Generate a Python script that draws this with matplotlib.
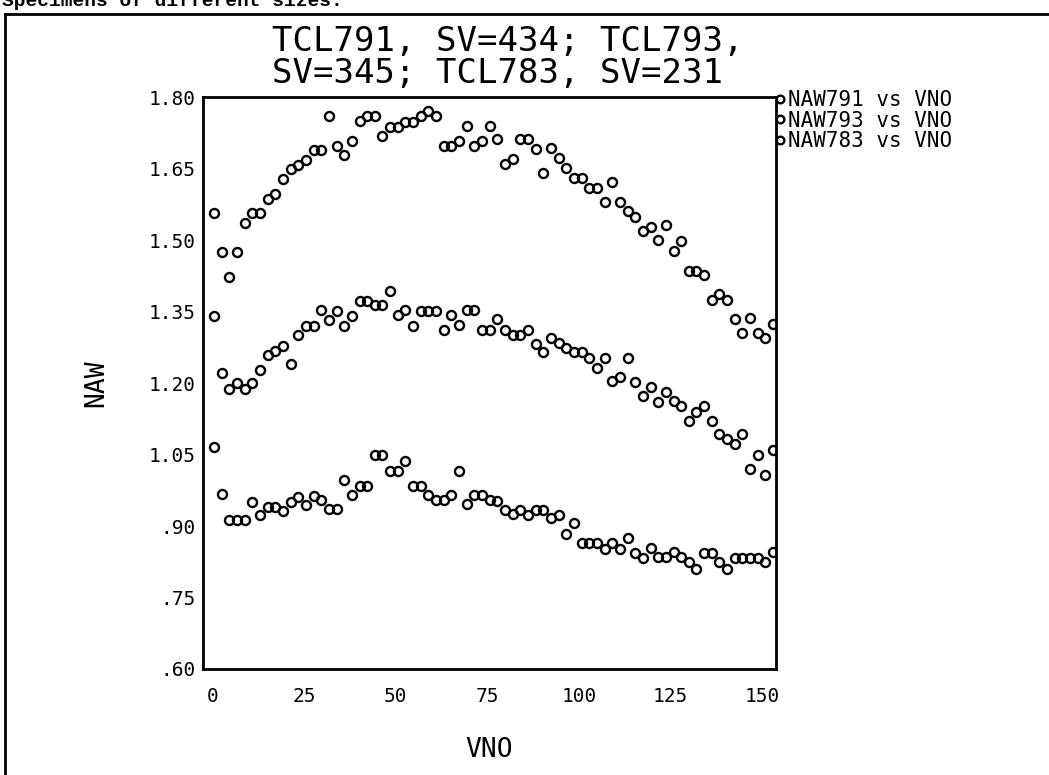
import numpy as np
import matplotlib.pyplot as plt
from matplotlib.lines import Line2D

# values (VNO runs evenly from ~0.5 to ~153)
VNO_FIRST = 0.5
VNO_LAST = 153.0

naw791 = [1.556, 1.474, 1.423, 1.474, 1.536, 1.556, 1.556, 1.586, 1.596, 1.628,
          1.648, 1.658, 1.668, 1.688,
          1.688, 1.760, 1.698, 1.678, 1.708, 1.750, 1.760, 1.760, 1.718, 1.738,
          1.738, 1.748, 1.748, 1.760, 1.770,
          1.760, 1.698, 1.698, 1.708, 1.740, 1.698, 1.708, 1.740, 1.712, 1.660,
          1.670, 1.712, 1.712, 1.690, 1.640,
          1.692, 1.672, 1.652, 1.630, 1.630, 1.610, 1.610, 1.580, 1.622, 1.580,
          1.560, 1.548, 1.518, 1.528, 1.500,
          1.532, 1.476, 1.498, 1.436, 1.436, 1.426, 1.374, 1.386, 1.374, 1.334,
          1.304, 1.336, 1.304, 1.294, 1.324]

naw793 = [1.340, 1.220, 1.188, 1.200, 1.188, 1.200, 1.228, 1.258, 1.268, 1.278,
          1.240, 1.300, 1.320, 1.320,
          1.354, 1.332, 1.352, 1.320, 1.340, 1.372, 1.372, 1.364, 1.364, 1.394,
          1.342, 1.354, 1.320, 1.352, 1.352,
          1.352, 1.312, 1.342, 1.322, 1.354, 1.354, 1.312, 1.312, 1.334, 1.312,
          1.300, 1.300, 1.312, 1.282, 1.264,
          1.294, 1.284, 1.274, 1.264, 1.264, 1.252, 1.232, 1.252, 1.204, 1.212,
          1.252, 1.202, 1.172, 1.192, 1.160,
          1.182, 1.162, 1.152, 1.120, 1.140, 1.152, 1.120, 1.092, 1.082, 1.072,
          1.092, 1.020, 1.048, 1.008, 1.060]

naw783 = [1.066, 0.968, 0.912, 0.912, 0.912, 0.950, 0.924, 0.940, 0.940, 0.932,
          0.950, 0.960, 0.944, 0.962,
          0.954, 0.936, 0.936, 0.996, 0.964, 0.984, 0.984, 1.048, 1.048, 1.016,
          1.016, 1.036, 0.984, 0.984, 0.964,
          0.954, 0.954, 0.964, 1.016, 0.946, 0.964, 0.966, 0.954, 0.952, 0.934,
          0.926, 0.934, 0.924, 0.934, 0.934,
          0.916, 0.924, 0.884, 0.906, 0.864, 0.864, 0.864, 0.852, 0.864, 0.852,
          0.874, 0.844, 0.832, 0.854, 0.834,
          0.836, 0.846, 0.836, 0.824, 0.810, 0.844, 0.844, 0.824, 0.810, 0.832,
          0.832, 0.832, 0.832, 0.824, 0.846]

series = [("NAW791 vs VNO", naw791), ("NAW793 vs VNO", naw793), ("NAW783 vs VNO", naw783)]

x_ticks = [0, 25, 50, 75, 100, 125, 150]
y_ticks = [0.60, 0.75, 0.90, 1.05, 1.20, 1.35, 1.50, 1.65, 1.80]
y_labels = [".60", ".75", ".90", "1.05", "1.20", "1.35", "1.50", "1.65", "1.80"]

title_1 = "TCL791, SV=434; TCL793,"
title_2 = "SV=345; TCL783, SV=231"
header = "Specimens of different sizes."

mono = "DejaVu Sans Mono"

fig = plt.figure(figsize=(10.49, 7.75), dpi=100)
ax = fig.add_axes([203 / 1049, 1 - 669 / 775, 573 / 1049, 572 / 775])

for label, vals in series:
    vno = np.linspace(VNO_FIRST, VNO_LAST, len(vals))
    ax.plot(vno, vals, linestyle="none", marker="o", markersize=6.5,
            markerfacecolor="none", markeredgecolor="black", markeredgewidth=1.7,
            label=label)

ax.set_xlim(-2.5, 153.8)
ax.set_ylim(0.60, 1.80)
ax.set_xticks(x_ticks)
ax.set_xticklabels([str(t) for t in x_ticks], family=mono, fontsize=14)
ax.set_yticks(y_ticks)
ax.set_yticklabels(y_labels, family=mono, fontsize=14)
ax.tick_params(axis="both", length=0)
ax.tick_params(axis="x", pad=13)
ax.tick_params(axis="y", pad=5)
for side in ax.spines:
    ax.spines[side].set_linewidth(2)

ax.set_xlabel("VNO", family=mono, fontsize=19, labelpad=22)
ax.set_ylabel("NAW", family=mono, fontsize=19, labelpad=29)

leg = ax.legend(loc="upper left", bbox_to_anchor=(1.0, 1.012), frameon=False,
                borderaxespad=0.0, borderpad=0.0, handlelength=0.4,
                handletextpad=0.2, labelspacing=0.03, markerscale=0.85,
                prop={"family": mono, "size": 15})

fig.text(272 / 1049, 1 - 41 / 775, title_1, family=mono, fontsize=24.5,
         ha="left", va="center")
fig.text(272 / 1049, 1 - 73 / 775, title_2, family=mono, fontsize=24.5,
         ha="left", va="center")

# clipped caption from the page above and the frame of the figure box
fig.text(0.002, 1 - 6 / 775, header, family="Liberation Mono", weight="bold",
         fontsize=14, ha="left", va="baseline")
fig.add_artist(Line2D([5 / 1049, 1.0], [1 - 14 / 775, 1 - 14 / 775],
                      transform=fig.transFigure, color="black", linewidth=2))
fig.add_artist(Line2D([5 / 1049, 5 / 1049], [0.0, 1 - 14 / 775],
                      transform=fig.transFigure, color="black", linewidth=2))

fig.savefig("out.png", dpi=100)
